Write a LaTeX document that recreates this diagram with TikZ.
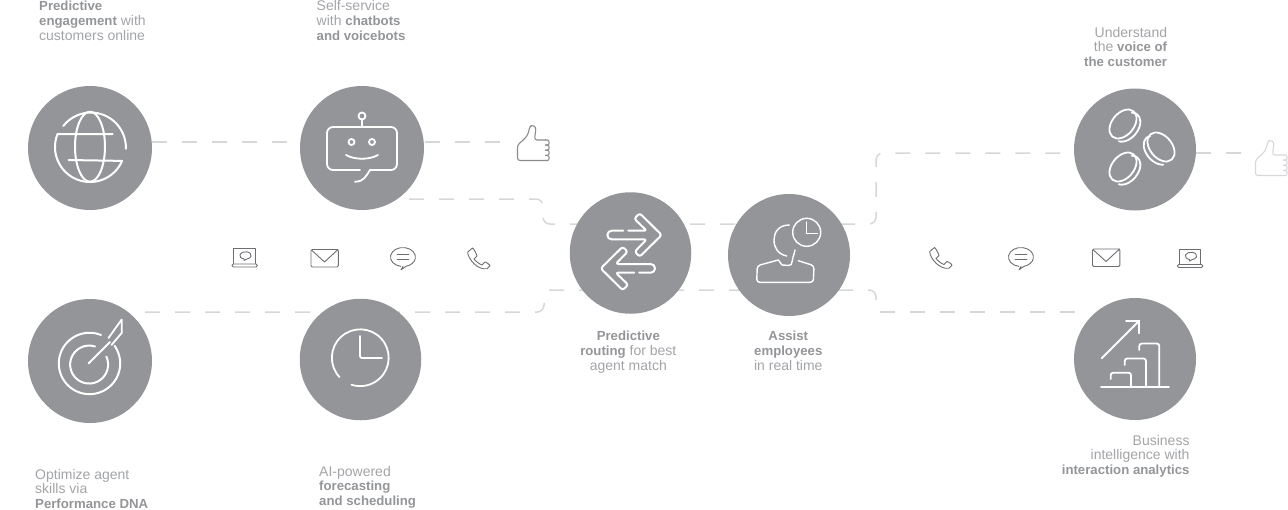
\documentclass[tikz,border=0pt]{standalone}
\usepackage{fontspec}
\setmainfont{Liberation Sans}
\usetikzlibrary{backgrounds}
\definecolor{disc}{HTML}{939598}
\definecolor{dashc}{HTML}{D6D7D8}
\definecolor{txt}{HTML}{A2A4A7}
\definecolor{txtb}{HTML}{939598}
\definecolor{mediac}{HTML}{6D6E71}
\newcommand{\bb}[1]{{\fontsize{13.2}{14.7}\selectfont\bfseries\color{txtb}#1}}
\tikzset{
  disc/.style={circle,fill=disc,inner sep=0pt,minimum size=#1},
  conn/.style={draw=dashc,line width=1.5pt,dash pattern=on 15pt off 15pt,rounded corners=7pt},
  ico/.style={draw=white,line width=2pt,line cap=round,line join=round},
  ico2/.style={draw=white,line width=1.8pt,line cap=round,line join=round},
  ico3/.style={draw=white,line width=1.4pt,line cap=round,line join=round},
  med/.style={draw=mediac,line width=.9pt,line cap=round,line join=round},
  lab/.style={text=txt,font=\fontsize{14}{14.7}\selectfont,inner sep=0pt},
  labl/.style={lab,align=left,anchor=base west},
  labr/.style={lab,align=right,anchor=base east},
  labc/.style={lab,align=center,anchor=base},
  thumbicon/.pic={
    \draw[pic actions,rounded corners=2.5pt] (28,15) -- (17,15) -- (18.5,2) -- (14.5,0) -- (12,2) -- (11,8) -- (8,13) -- (0,20) -- (0,35.5) -- (28,35.5);
    \foreach \yy in {15,20,25.2,30.4}{
      \draw[pic actions] (28,\yy) -- (30,\yy) .. controls (32.2,\yy) and (32.2,\yy+5.1) .. (30,\yy+5.1) -- (28,\yy+5.1);
    }
  },
  phoneicon/.pic={
    \draw[med] (0.7,4) .. controls (0.7,11) and (11,22.5) .. (20,20.7) -- (23,17.8) .. controls (23,16.5) and (19,14.3) .. (18,14) -- (15,17) .. controls (12,16) and (8,12.5) .. (7,11) -- (10,8) .. controls (9.5,6) and (7,1) .. (5.5,0) -- cycle;
  },
  bubbleicon/.pic={
    \draw[med] (10.8,18.9) arc[start angle=100,end angle=435,x radius=12.5,y radius=9.5] -- (11,22.3) -- (13,19);
    \draw[med] (7,7) -- (19,7) (7,11.5) -- (19,11.5);
  },
  envicon/.pic={
    \draw[med,rounded corners=1.2pt] (0,0.5) rectangle (27.3,18);
    \draw[med] (1,1.5) -- (13.5,13) -- (27,0.5);
  },
  lapicon/.pic={
    \draw[med] (1.8,15.5) -- (1.8,0.5) -- (23,0.5) -- (23,15.5);
    \draw[med,rounded corners=1.3pt] (0,16) rectangle (25.3,19);
    \draw[med] (12,11) arc[start angle=105,end angle=435,x radius=5.7,y radius=3.7] -- (12,12.5) -- cycle;
  }
}
\begin{document}
\begin{tikzpicture}[x=1pt,y=1pt,yscale=-1]
\useasboundingbox (0,0) rectangle (1288,509);

% discs
\node[disc=124pt] (web) at (90,148) {};
\node[disc=124pt] (bot) at (362,148) {};
\node[disc=124pt] (target) at (90,361) {};
\node[disc=121.5pt] (clockd) at (360.5,359.5) {};
\node[disc=121.5pt] (route) at (630.5,253) {};
\node[disc=122pt] (assist) at (789,255) {};
\node[disc=122pt] (voice) at (1135,149.5) {};
\node[disc=122pt] (bi) at (1135,359) {};

% connector end points
\coordinate (webR) at (152,142);
\coordinate (botL) at (300,142);
\coordinate (botR) at (425,142);
\coordinate (thumbL) at (503,142);
\coordinate (botS) at (409,199);
\coordinate (a1) at (543,199);
\coordinate (a2) at (543,224);
\coordinate (a3) at (876,224);
\coordinate (a4) at (876,153);
\coordinate (voiceL) at (1074,153);
\coordinate (voiceR) at (1196,153);
\coordinate (thumbR) at (1243,153);
\coordinate (tgtS) at (145,312);
\coordinate (b1) at (544,312);
\coordinate (b2) at (544,290);
\coordinate (bm) at (780,290);
\coordinate (bn) at (778,290);
\coordinate (b3) at (876,290);
\coordinate (b4) at (876,303);
\coordinate (biS) at (880,312);
\coordinate (biL) at (1082,312);

\begin{scope}[on background layer]
\draw[conn] (webR) -- (botL);
\draw[conn] (botR) -- (thumbL);
\draw[conn] (botS) -- (a1) -- (a2) -- (a3) -- (a4) -- (voiceL);
\draw[conn] (voiceR) -- (thumbR);
\draw[conn] (tgtS) -- (b1) -- (b2) -- (bm);
\draw[conn] (bn) -- (b3) -- (b4);
\draw[conn] (biS) -- (biL);
\end{scope}

% globe
\draw[ico] (63.3,126) arc[start angle=-142,end angle=2,radius=35];
\draw[ico] (112.7,134) -- (57.5,134) arc[start angle=201.8,end angle=23.4,radius=35] -- (68.5,160);
\draw[ico] (90,146.7) ellipse [x radius=15,y radius=35];

% bot
\draw[ico2,rounded corners=6pt] (360,170) -- (327,170) -- (327,127) -- (397,127) -- (397,170) -- (370,170);
\draw[ico2] (370,170) .. controls (366,176) and (364,181.7) .. (355,181.7);
\draw[ico2] (362,116) circle (3.5);
\draw[ico2] (362,119.5) -- (362,127);
\draw[ico2] (351.5,142) circle (3) (372,142) circle (3);
\draw[ico2] (346,155) .. controls (355,160) and (369,160) .. (378,155);

% target
\draw[ico] (101,335) arc[start angle=-68,end angle=-395,radius=30.7];
\draw[ico] (95,346.5) arc[start angle=-72,end angle=-385,radius=19];
\draw[ico] (88.5,363.5) -- (110,342);
\draw[ico2] (108.5,338) -- (121.7,319.5) -- (121.7,333) -- (111.5,345);

% clock
\draw[ico2] (339.5,377.1) arc[start angle=137,end angle=468,radius=28.4];
\draw[ico2,rounded corners=2pt] (360,336) -- (360,358) -- (382,358);

% routing arrows
\foreach \tf in {0,1}{
  \begin{scope}[shift={(631.2,251.7)},rotate=\tf*180]
  \draw[ico,rounded corners=2.5pt] (-3,-21) -- (15.5,-21) -- (3,-33) -- (8.5,-38.5) -- (30.5,-16.7) -- (8.5,5) -- (3.5,0) -- (15.5,-12.3) -- (-19.5,-12.3);
  \draw[ico] (-19.5,-12.3) arc[start angle=90,end angle=270,radius=4.35] -- (-8,-21);
  \end{scope}
}

% assist
\draw[ico3] (806.7,232.3) circle (14);
\draw[ico3] (806.7,222) -- (806.7,233.3) -- (817.3,233.3);
\draw[ico3] (789.3,225) .. controls (778,225) and (774,233) .. (774,240) .. controls (774,248) and (778,254) .. (786.7,256);
\draw[ico3] (795,250) .. controls (794,256) and (792,258) .. (792,262) .. controls (792,267) and (787,265) .. (782,265) .. controls (781,263) and (780,262) .. (778.3,260);
\draw[ico3,rounded corners=3pt] (778.3,260) -- (757.3,265.7) -- (756.7,282.3) -- (813.3,282.3) -- (814,265.7) -- (798.3,260.7);

% coins
\foreach \cx/\cy in {1123/124,1123/167}{
  \begin{scope}[shift={(\cx,\cy)},rotate=-50]
    \draw[ico2] (0,0) ellipse [x radius=16.5,y radius=11];
    \draw[ico2] (14.3,-0.5) arc[start angle=-30,end angle=165,x radius=16.5,y radius=11];
  \end{scope}
}
\begin{scope}[shift={(1161,147)},rotate=50]
  \draw[ico2] (0,0) ellipse [x radius=16.5,y radius=11];
  \draw[ico2] (15,9.6) arc[start angle=25,end angle=200,x radius=16.5,y radius=11];
\end{scope}

% chart
\draw[ico2] (1101,387) -- (1169,387);
\draw[ico2,rounded corners=2.5pt] (1139.3,350) -- (1139.3,343.5) -- (1159.3,343.5) -- (1159.3,387);
\draw[ico2,rounded corners=2.5pt] (1124.7,365) -- (1124.7,358.5) -- (1146,358.5) -- (1146,387);
\draw[ico2,rounded corners=2.5pt] (1110.7,379) -- (1110.7,372.7) -- (1131,372.7) -- (1131,387);
\draw[ico2] (1101.7,358.3) -- (1139.3,320.7);
\draw[ico2] (1126,320.7) -- (1139.3,320.7) -- (1139.3,333.3);

% thumbs
\pic[transform shape,draw=mediac!80,line width=1.1pt,line cap=round,line join=round] (thumbA) at (517.5,125) {thumbicon};
\pic[transform shape,draw=dashc,line width=1.1pt,line cap=round,line join=round] (thumbB) at (1255.5,140) {thumbicon};

% media icons
\pic[transform shape] (lapA) at (232,248) {lapicon};
\pic[transform shape] (envA) at (311,249) {envicon};
\pic[transform shape] (bubA) at (390,247.5) {bubbleicon};
\pic[transform shape] (phoA) at (467,248) {phoneicon};
\pic[transform shape] (phoB) at (929,247.5) {phoneicon};
\pic[transform shape] (bubB) at (1008,247.5) {bubbleicon};
\pic[transform shape] (envB) at (1092.5,248.5) {envicon};
\pic[transform shape] (lapB) at (1177.5,248.5) {lapicon};

% labels
\node[labl] (t1) at (39,40) {\bb{Predictive}\\\bb{engagement} with\\customers online};
\node[labl] (t2) at (316.5,40) {Self-service\\with \bb{chatbots}\\\bb{and voicebots}};
\node[labl] (t3) at (35,508.6) {Optimize agent\\skills via\\\bb{Performance DNA}};
\node[labl] (t4) at (319,505.6) {AI-powered\\\bb{forecasting}\\\bb{and scheduling}};
\node[labc] (t5) at (628.3,370.3) {\bb{Predictive}\\\bb{routing} for best\\agent match};
\node[labc] (t6) at (788.3,370.3) {\bb{Assist}\\\bb{employees}\\in real time};
\node[labr] (t7) at (1167.3,66.5) {Understand\\the \bb{voice of}\\\bb{the customer}};
\node[labr] (t8) at (1189.7,474.6) {Business\\intelligence with\\\bb{interaction analytics}};
\end{tikzpicture}
\end{document}
